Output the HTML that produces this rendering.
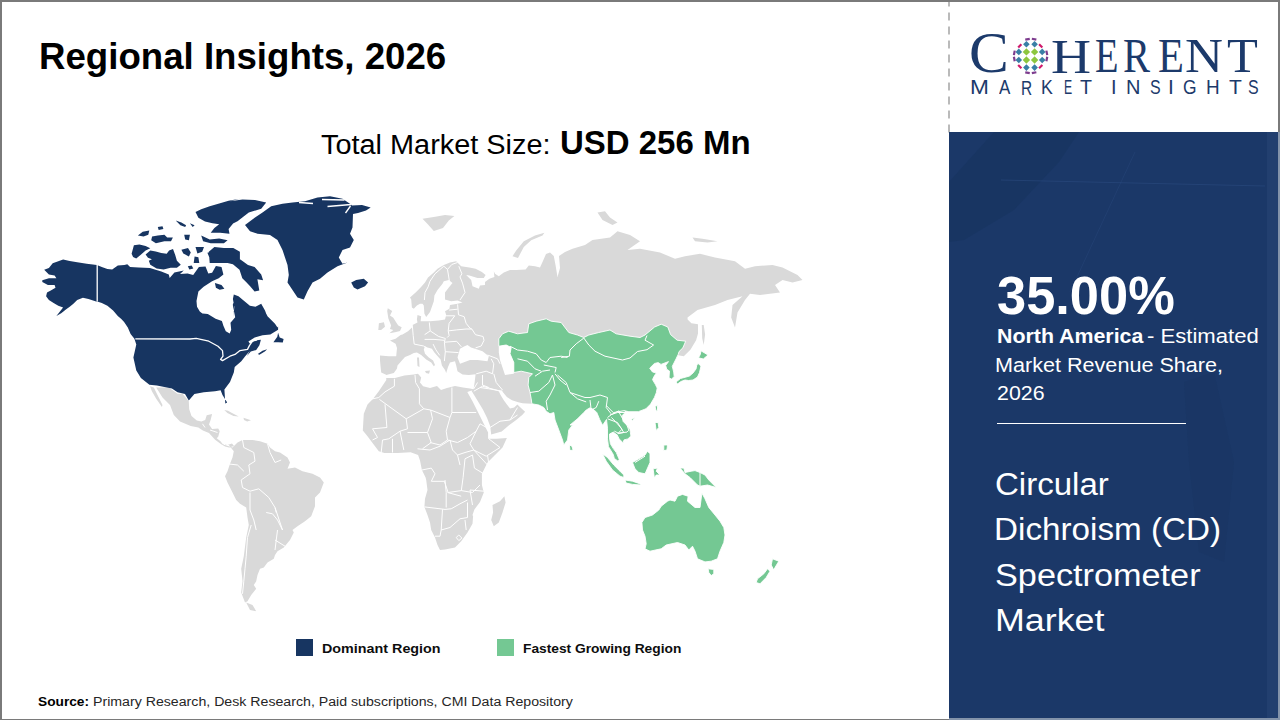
<!DOCTYPE html>
<html><head><meta charset="utf-8">
<style>
html,body{margin:0;padding:0;}
body{width:1280px;height:720px;position:relative;overflow:hidden;background:#fff;font-family:"Liberation Sans",sans-serif;}
.t{position:absolute;white-space:pre;line-height:1;transform-origin:0 0;}
.frame{position:absolute;left:0;top:0;width:1280px;height:720px;box-sizing:border-box;border:2px solid #7a7a7a;border-bottom-width:1.5px;pointer-events:none;}
</style></head><body>
<svg width="1280" height="720" viewBox="0 0 1280 720" style="position:absolute;left:0;top:0">
<path fill="#d9d9d9" d="M386.2,375.0 385.6,374.4 381.2,372.5 380.6,366.9 380.0,360.6 380.0,355.6 388.8,356.2 396.2,356.2 397.0,348.0 395.6,343.8 390.0,340.6 395.6,338.8 400.6,335.0 402.5,334.4 408.0,331.2 412.0,327.5 412.5,325.0 417.5,322.5 416.9,319.4 417.5,315.0 421.2,316.2 420.6,321.2 430.0,321.2 438.8,320.6 445.0,319.4 446.2,315.0 445.0,311.2 449.4,308.8 450.0,305.0 457.5,303.8 462.5,302.5 457.5,300.6 451.2,301.2 445.0,299.4 445.0,292.5 448.8,287.5 452.5,283.1 448.8,280.0 443.8,281.2 442.5,283.8 437.5,290.0 434.4,295.6 433.8,301.2 432.5,305.0 430.0,311.9 426.2,316.9 424.4,313.8 423.8,305.6 422.5,303.8 420.0,303.8 416.9,305.6 413.8,308.8 411.9,307.5 411.2,299.4 410.0,297.5 415.6,292.5 420.6,287.5 425.0,282.5 428.0,277.5 433.8,272.5 437.5,268.8 443.8,265.0 450.0,262.5 456.2,261.2 461.2,266.2 469.4,267.5 475.6,268.8 481.9,271.9 485.6,275.0 483.8,278.0 477.5,278.0 469.4,275.6 466.2,275.0 471.2,280.0 472.5,286.2 478.8,288.8 480.0,285.6 485.0,285.0 485.0,281.9 489.4,278.8 494.4,276.9 493.8,271.2 495.0,273.8 498.8,276.2 503.8,272.5 510.0,270.0 516.2,270.0 525.6,269.4 528.8,265.6 535.0,266.2 540.0,267.5 542.5,262.0 546.0,254.0 550.0,252.5 553.8,256.0 555.6,265.6 557.5,277.0 560.0,268.0 559.0,256.0 565.0,252.0 572.5,248.8 585.0,245.0 592.5,240.0 610.0,237.5 617.5,231.2 630.0,235.0 640.0,241.2 627.5,250.0 640.0,248.8 660.0,252.5 675.0,258.8 685.0,256.2 700.0,253.8 715.0,257.5 735.0,261.2 745.0,268.8 755.0,266.2 772.5,265.0 782.5,267.5 797.5,275.0 802.5,280.0 792.5,282.5 782.5,280.0 775.0,285.0 780.0,292.5 760.0,295.0 750.0,293.8 745.0,300.0 737.5,312.5 735.0,327.5 731.2,317.5 732.5,305.0 742.5,296.2 727.5,300.0 715.0,305.0 697.5,310.0 687.5,317.5 687.6,319.4 691.4,323.2 698.0,324.2 698.0,333.6 696.1,340.2 690.4,349.7 683.8,356.3 678.2,355.3 675.3,358.2 676.1,358.8 672.3,366.3 673.7,372.0 674.2,376.7 671.4,379.1 669.0,377.7 669.5,371.1 666.7,369.2 665.7,365.4 668.5,361.6 661.0,364.4 658.2,362.6 654.4,363.5 649.7,368.2 652.5,372.0 656.3,372.9 654.4,375.8 652.5,379.6 655.3,384.3 657.2,388.1 656.3,392.8 654.4,397.5 650.6,404.1 645.9,408.8 638.3,411.7 628.9,411.7 624.2,410.7 626.0,411.7 622.1,415.6 623.1,421.4 627.0,425.3 629.9,429.2 630.9,436.0 627.9,438.9 624.0,439.9 623.1,442.8 619.2,438.9 617.2,435.0 613.3,432.1 609.5,434.0 609.5,437.9 610.4,443.8 613.3,448.6 616.3,452.5 619.2,459.3 618.2,461.3 614.3,458.4 613.3,454.5 608.5,446.7 607.5,438.9 607.5,428.2 606.5,419.5 602.6,425.3 599.7,419.5 596.8,412.6 593.9,409.7 590.0,407.8 586.2,410.0 583.8,412.5 577.5,418.8 570.0,425.0 572.5,425.0 568.8,430.0 567.5,440.0 563.8,445.0 562.5,440.0 558.8,430.0 555.0,420.0 553.8,412.5 550.0,413.8 546.2,411.2 543.8,407.5 538.8,405.0 531.9,403.8 522.5,403.3 518.3,402.3 512.0,400.2 506.9,397.0 501.7,390.8 498.5,390.8 500.6,395.0 503.8,400.2 506.9,404.4 510.0,408.5 514.2,407.5 517.3,404.4 519.4,406.5 525.1,411.7 522.5,414.8 516.2,420.0 509.0,425.2 501.7,431.5 491.2,434.6 490.2,426.2 487.1,417.9 482.9,409.6 476.7,399.2 471.5,390.8 473.5,389.8 474.6,382.5 475.6,374.2 468.8,375.0 462.5,374.4 457.5,371.2 456.2,365.6 455.0,361.2 450.0,362.5 448.0,367.0 446.2,373.0 445.0,370.0 441.9,365.6 440.6,359.4 438.8,357.5 434.4,352.5 431.9,348.8 427.5,347.5 425.0,346.2 423.8,349.4 425.0,353.8 428.8,357.5 433.1,360.6 435.0,365.0 433.8,366.2 431.2,362.5 426.2,359.4 421.2,355.0 416.9,352.5 413.8,353.0 410.0,355.0 405.0,357.0 401.2,361.2 397.5,365.6 396.9,368.8 393.8,373.0Z M386.2,378.0 395.0,378.0 404.4,375.6 413.8,374.4 418.0,373.8 421.2,377.5 420.0,382.5 423.1,386.2 430.0,388.0 437.0,386.0 441.0,390.0 447.0,388.0 455.0,386.0 463.0,387.5 470.0,388.5 474.4,389.4 467.3,391.9 472.5,401.2 478.8,413.8 484.0,424.2 488.1,432.5 488.1,438.8 496.5,438.8 506.9,438.0 502.5,447.5 495.0,455.0 487.5,462.5 481.9,473.8 481.9,485.0 483.8,492.5 480.0,501.9 474.4,509.4 472.5,515.0 473.1,516.2 472.5,523.8 467.5,532.5 461.2,541.2 455.0,547.5 445.0,549.4 440.0,550.0 437.5,545.0 435.0,537.5 431.2,530.0 430.0,522.5 427.5,515.0 424.4,506.9 425.0,498.8 427.5,490.0 426.2,480.0 425.6,477.5 421.9,470.0 420.0,460.6 418.1,455.0 410.6,452.2 397.5,453.1 384.4,453.1 378.8,451.3 373.1,443.8 367.5,436.3 362.8,430.6 363.8,413.8 367.5,404.4 373.1,398.8 378.8,391.3 386.3,380.0Z M492.5,505.0 500.0,501.2 504.4,496.2 505.6,502.5 502.5,512.5 498.8,522.5 493.8,526.2 491.2,520.0 493.1,512.5Z M387.8,308.3 392.2,311.1 390.0,315.6 393.3,317.8 396.1,322.2 398.3,325.6 401.7,327.2 400.0,331.1 395.0,332.2 389.4,333.3 393.3,330.0 390.0,328.9 391.1,325.6 388.3,318.3 387.2,311.1Z M378.9,323.3 383.9,322.2 385.0,326.7 381.1,330.0 378.3,330.0Z M422.5,218.8 433.8,216.9 445.0,215.0 454.4,216.0 448.8,220.6 443.0,228.0 433.8,231.0 428.0,224.4Z M512.5,256.2 516.2,250.6 523.8,241.2 535.0,235.6 544.4,232.8 542.5,235.6 531.2,240.3 523.8,246.9 518.0,258.0Z M417.0,357.5 419.0,357.5 419.5,367.0 417.5,366.0Z M425.0,371.0 430.0,370.6 429.0,373.8 426.0,373.0Z M597.5,212.5 605.0,211.2 610.0,217.5 617.5,222.5 612.5,225.0 602.5,220.0Z M692.5,237.5 702.5,238.8 717.5,241.2 707.5,242.5 695.0,241.2Z M701.8,325.1 703.7,325.1 705.1,334.6 703.7,344.9 702.2,338.3Z M156.2,387.5 168.8,387.5 177.5,393.8 182.5,393.8 188.8,401.2 189.2,409.2 191.5,416.0 196.8,420.6 201.4,421.4 205.2,419.9 206.7,415.3 212.1,414.1 210.6,419.9 209.0,424.4 212.1,429.0 218.2,428.6 219.7,431.3 218.2,436.7 216.7,438.2 220.5,441.2 222.8,444.3 227.4,445.1 232.0,443.5 234.0,446.0 229.0,447.5 225.1,446.6 221.2,444.3 215.1,439.7 209.0,432.9 202.9,430.6 198.3,427.5 190.7,426.0 180.0,421.4 173.8,415.0 170.0,405.0 162.5,397.5Z M150.0,386.2 153.8,387.5 157.5,395.0 162.5,405.0 161.9,406.9 156.2,398.8 151.9,391.2Z M224.3,409.9 228.0,410.8 232.0,413.0 238.8,416.4 233.5,416.0 227.4,413.0Z M243.5,417.8 251.0,420.2 247.2,421.6 244.0,420.0Z M225.0,445.0 232.5,447.5 237.5,442.5 242.5,440.0 252.5,440.0 260.0,441.2 267.5,443.8 270.0,447.5 275.0,451.2 280.0,452.5 287.5,457.5 290.0,462.5 287.5,468.8 295.0,467.5 302.5,471.2 312.5,473.8 320.0,477.5 323.8,482.5 320.0,492.5 315.0,497.5 315.0,506.2 311.2,516.2 305.0,521.2 297.5,526.2 292.5,530.0 293.8,532.5 290.0,540.0 283.8,547.5 277.5,551.2 275.0,555.0 273.8,558.8 267.5,562.5 263.8,567.5 260.0,568.8 257.5,575.0 256.2,581.2 253.8,585.0 256.2,588.8 251.2,595.0 247.5,601.2 245.0,602.5 241.2,592.5 242.5,581.2 241.2,568.8 243.8,556.2 246.2,537.5 248.8,525.0 247.5,517.5 246.2,507.5 240.0,503.8 236.2,500.0 232.5,492.5 227.5,482.5 225.0,476.2 227.5,471.2 230.0,463.8 232.5,457.5 233.8,451.2 228.8,445.0Z M246.2,602.5 252.5,605.0 256.2,611.2 250.0,610.0Z"/>
<path fill="#74c893" stroke="#fff" stroke-width="0.9" d="M498.8,338.8 502.5,333.8 508.8,331.2 517.5,333.8 527.5,332.5 528.8,323.8 536.2,321.2 546.2,318.8 551.2,321.2 561.2,322.5 568.8,332.5 577.5,335.0 583.8,337.5 588.8,335.0 598.8,332.5 610.0,330.0 616.2,333.8 630.0,336.2 640.0,337.5 645.0,335.0 654.6,327.0 661.2,324.2 667.8,327.0 670.6,334.6 677.2,340.2 685.7,341.2 682.9,347.8 679.1,351.5 678.2,354.4 676.1,358.8 672.3,366.3 673.7,372.0 674.2,376.7 671.4,379.1 669.0,377.7 669.5,371.1 666.7,369.2 665.7,365.4 668.5,361.6 661.0,364.4 658.2,362.6 654.4,363.5 649.7,368.2 652.5,372.0 656.3,372.9 654.4,375.8 652.5,379.6 655.3,384.3 657.2,388.1 656.3,392.8 654.4,397.5 650.6,404.1 645.9,408.8 638.3,411.7 628.9,411.7 624.2,410.7 626.0,411.7 622.1,415.6 623.1,421.4 627.0,425.3 629.9,429.2 630.9,436.0 627.9,438.9 624.0,439.9 623.1,442.8 619.2,438.9 617.2,435.0 613.3,432.1 609.5,434.0 609.5,437.9 610.4,443.8 613.3,448.6 616.3,452.5 619.2,459.3 618.2,461.3 614.3,458.4 613.3,454.5 608.5,446.7 607.5,438.9 607.5,428.2 606.5,419.5 602.6,425.3 599.7,419.5 596.8,412.6 593.9,409.7 590.0,407.8 586.2,410.0 583.8,412.5 577.5,418.8 570.0,425.0 572.5,425.0 568.8,430.0 567.5,440.0 563.8,445.0 562.5,440.0 558.8,430.0 555.0,420.0 553.8,412.5 550.0,413.8 546.2,411.2 543.8,407.5 538.8,405.0 531.9,403.8 531.2,398.8 530.0,392.5 528.1,385.0 528.8,377.5 532.5,373.8 521.2,371.2 513.8,372.5 513.8,362.5 510.0,353.8 511.2,347.5 506.2,345.0 498.8,346.2Z M569.4,445.0 571.9,446.2 573.1,450.0 570.0,450.6Z M698.1,363.5 701.0,366.0 699.5,372.5 697.5,377.0 693.0,380.0 688.5,380.5 685.0,380.0 681.0,381.5 677.5,384.0 676.0,382.0 680.5,378.5 686.0,377.0 689.5,376.0 693.0,373.0 696.0,369.0 696.8,365.0Z M701.0,350.8 708.0,355.0 703.3,359.0 698.5,357.8 700.3,354.4Z M655.0,406.2 657.5,405.6 657.5,410.0 656.2,411.2Z M630.9,419.5 634.7,417.5 632.8,420.4Z M655.0,422.5 658.1,422.5 658.8,427.5 656.2,430.6Z M663.8,445.0 667.5,445.0 666.9,450.0 663.8,450.6Z M602.5,453.8 607.5,457.5 613.8,465.0 620.0,471.2 623.8,475.0 623.8,477.5 620.0,476.2 612.5,470.0 606.2,461.2Z M625.0,480.0 632.5,481.2 640.0,483.8 641.2,485.0 632.5,484.4 626.2,483.1Z M632.5,462.5 638.8,458.8 645.0,455.0 647.5,451.2 650.0,453.8 650.0,462.5 646.2,471.2 645.0,473.8 638.8,472.5 635.0,468.8Z M653.1,468.8 657.5,468.1 656.2,471.2 660.0,475.0 656.2,475.0 654.4,478.1Z M680.0,468.1 683.8,468.1 685.0,472.5 691.2,471.2 695.0,470.6 700.0,472.5 705.0,475.0 708.8,480.0 716.2,487.5 707.5,485.0 700.0,486.2 697.5,485.0 690.0,477.5 685.0,473.8Z M641.9,522.5 645.0,517.5 652.5,515.0 658.8,510.0 661.2,506.2 667.5,501.2 670.0,500.0 675.0,501.2 677.5,496.2 682.5,494.4 688.1,496.2 687.5,501.2 695.0,507.5 700.0,507.5 701.9,493.1 705.0,498.8 708.8,507.5 715.0,515.0 720.0,521.2 723.8,527.5 725.0,535.0 725.0,535.0 723.8,542.5 720.0,551.2 717.5,558.8 711.2,561.2 705.0,561.9 697.5,558.8 695.0,551.2 692.5,546.2 688.8,550.0 685.0,545.0 677.5,542.5 666.2,545.0 661.2,548.8 650.0,551.2 647.5,550.0 645.0,548.8 646.2,543.8 645.0,536.2 642.5,530.0Z M708.1,568.8 713.8,569.4 713.8,573.8 711.2,575.6 708.8,572.5Z M772.5,558.8 778.8,561.2 775.0,567.5 773.8,570.0 771.2,565.0Z M767.5,568.8 770.0,571.2 766.2,577.5 760.0,583.8 756.2,582.5 757.5,578.8 763.8,573.8Z"/>
<path fill="#173561" d="M44.2,269.8 48.9,267.9 52.7,263.2 58.3,261.3 63.1,259.4 69.7,260.9 77.2,262.3 86.7,263.7 96.9,265.1 101.8,267.0 107.4,268.9 112.2,269.4 117.8,265.6 124.4,265.1 127.3,264.2 130.1,267.0 138.6,267.5 149.9,267.9 161.3,271.6 168.8,274.4 169.7,278.1 174.4,272.5 183.8,270.6 180.0,274.1 187.6,273.6 193.2,275.0 198.9,267.0 205.5,266.5 208.3,273.6 212.1,272.7 215.9,266.1 221.5,267.0 223.4,274.6 218.7,278.3 212.1,281.2 203.6,286.8 198.4,291.5 196.5,301.0 197.0,306.7 199.8,311.4 204.6,315.2 200.0,313.3 207.8,314.1 215.6,318.8 221.9,321.1 223.4,325.8 225.8,331.2 229.7,333.6 231.2,329.7 230.5,322.7 235.2,317.2 233.6,309.4 232.8,304.7 234.4,300.0 233.4,318.0 234.3,306.7 232.9,299.1 233.8,294.4 238.5,296.3 244.2,301.0 249.9,305.7 255.5,306.7 261.2,303.8 265.0,310.4 267.8,318.0 260.0,305.0 263.8,308.8 267.5,316.2 275.0,323.8 277.5,327.5 278.1,326.6 278.1,329.7 270.3,334.4 262.5,335.2 254.7,337.5 248.4,341.4 250.0,343.8 254.7,340.6 260.9,339.8 259.4,345.3 256.2,350.0 250.8,351.6 246.9,356.0 249.7,350.9 245.0,356.6 241.3,361.3 234.7,366.9 233.8,372.5 230.0,381.9 224.4,389.4 225.3,403.4 227.2,402.5 222.5,395.0 220.6,390.3 215.0,391.3 203.8,392.2 194.4,394.1 188.8,400.6 185.0,394.1 177.5,392.2 171.9,388.4 156.9,385.6 149.4,384.7 140.9,378.1 136.3,370.6 133.4,357.5 136.3,344.4 134.4,338.8 130.6,334.1 127.8,327.5 124.1,321.9 121.3,319.1 117.8,316.1 113.1,310.4 107.4,305.7 101.8,302.9 97.2,301.5 96.1,301.5 88.5,299.1 82.9,297.7 77.2,300.0 73.4,303.8 69.7,306.7 65.9,309.5 61.2,313.3 56.4,316.1 63.1,307.6 58.3,305.7 53.6,302.9 48.9,300.0 46.1,296.3 47.0,292.5 50.8,290.6 55.5,287.8 54.6,284.9 47.9,284.9 42.3,282.1 42.3,280.2 48.9,278.3 56.4,278.3 54.6,275.5 48.9,274.6Z M257.8,353.9 262.5,350.8 267.2,349.2 264.8,351.6 259.4,354.7Z M273.4,342.2 277.3,336.7 278.1,332.8 279.7,337.5 283.6,339.1 282.8,342.6 278.1,342.2Z M131.6,253.8 133.9,245.2 139.4,244.4 145.6,245.9 150.3,248.3 145.6,250.6 140.2,255.3 136.2,258.4 133.1,256.9Z M145.6,254.5 150.3,250.6 155.8,251.4 161.2,253.0 166.7,253.8 169.1,250.6 173.0,249.1 175.3,255.3 176.9,260.8 180.8,264.7 176.9,267.8 170.6,267.8 163.6,269.4 156.6,268.6 150.3,264.7 148.8,260.8 151.9,259.2 148.0,257.7Z M187.8,266.2 191.7,265.5 193.3,268.6 189.4,269.4Z M137.9,235.6 142.7,231.8 149.3,230.4 148.3,234.7 143.6,236.5Z M152.1,236.5 157.8,235.6 164.4,234.7 167.2,237.5 172.9,237.5 171.0,241.3 164.4,241.3 155.9,243.2 151.2,240.3Z M157.8,227.1 162.5,226.2 163.4,229.0 158.7,229.9Z M175.7,220.5 181.4,222.4 186.1,225.2 185.2,227.1 180.4,225.2Z M189.9,223.3 194.6,225.2 192.7,227.1Z M184.2,234.7 189.9,234.7 188.9,240.3 185.2,239.4Z M201.2,235.6 209.7,239.4 219.2,238.4 227.6,240.3 223.9,243.2 210.7,243.2 203.1,241.3Z M195.5,212.0 201.2,209.2 209.7,206.3 219.2,203.5 228.6,200.7 239.9,198.8 230.0,201.2 242.5,199.4 255.0,200.0 266.2,202.5 261.2,208.8 248.8,212.5 237.5,221.2 230.0,225.0 233.3,223.3 228.6,229.0 229.5,233.7 220.1,232.8 210.7,232.8 214.4,228.1 219.2,224.3 212.5,223.3 205.0,221.4 198.4,217.7Z M195.5,246.9 204.0,246.9 202.2,251.7 197.4,253.5Z M194.6,256.4 198.4,257.3 199.3,263.0 193.7,263.0Z M181.4,249.8 188.0,247.9 190.8,252.6 188.9,256.4 183.3,253.5Z M207.4,252.8 217.8,250.0 224.4,252.8 232.9,255.7 240.4,259.4 248.0,265.1 254.6,267.0 261.2,274.6 263.1,280.2 257.4,279.3 259.3,290.6 254.6,291.5 249.9,285.9 246.1,282.1 242.3,278.3 239.5,269.8 232.9,264.2 224.4,262.3 217.8,260.4 210.2,259.4Z M208.8,251.7 214.4,246.9 223.9,247.9 233.3,247.9 239.9,251.7 239.9,263.0 209.7,263.0Z M214.9,283.1 221.5,284.9 224.4,288.7 219.7,289.7 215.9,287.8Z M245.0,225.0 255.0,217.5 262.5,212.5 271.2,206.2 282.5,203.8 292.5,202.5 305.0,201.2 317.5,197.5 330.0,196.2 342.5,198.8 350.0,203.8 352.0,205.5 362.0,205.0 370.7,207.5 366.0,210.5 358.0,213.0 353.0,214.0 352.5,227.5 350.0,233.8 353.8,240.0 350.0,247.5 342.5,250.0 338.8,257.5 342.5,263.8 347.5,262.5 337.5,266.2 327.5,272.5 320.0,278.8 312.5,282.5 307.5,291.2 303.8,299.4 297.5,297.5 292.5,290.0 287.5,282.5 288.8,275.0 287.5,265.0 285.0,257.5 282.5,250.0 277.5,240.0 270.0,235.0 257.5,233.8 250.0,231.2Z M351.2,282.5 356.2,280.0 363.8,278.8 368.1,282.5 365.0,286.2 357.5,289.4 353.8,287.5Z"/>
<path fill="#ffffff" d="M457.5,357.5 460.0,348.8 464.0,346.5 467.5,345.0 471.0,347.5 475.0,348.8 482.5,351.2 488.8,356.2 487.5,361.2 477.5,360.0 470.0,360.0 460.0,363.8Z M498.8,346.2 506.2,345.0 511.2,347.5 510.0,353.8 513.8,362.5 513.8,373.8 505.0,375.0 502.5,367.5 500.0,360.0 498.8,352.5Z"/>
<path fill="none" stroke="#ffffff" stroke-width="1" d="M394.4,378.8 394.4,386.2 385.0,391.9 378.8,397.5 370.0,399.4 M415.0,375.0 415.6,382.5 419.4,388.8 419.4,403.8 423.8,408.8 M379.4,399.4 406.2,418.8 423.8,408.8 M385.0,404.4 386.9,427.5 372.5,428.8 M406.2,418.8 407.5,428.8 400.0,431.2 388.8,438.8 382.5,440.0 M423.8,408.8 430.6,410.0 432.5,418.8 427.5,432.5 M407.5,432.5 420.0,432.5 427.5,432.5 M427.5,432.5 431.2,442.5 422.5,448.8 M451.9,387.5 451.9,412.5 M451.9,412.5 476.2,412.5 M430.6,410.0 450.0,417.5 451.9,412.5 M450.0,417.5 446.2,431.2 447.5,440.0 M430.0,442.5 440.0,445.0 447.5,440.0 M447.5,440.0 457.5,442.5 467.5,437.5 476.2,431.2 M476.2,431.2 470.0,443.8 473.8,450.0 486.2,456.2 M476.2,431.2 480.0,423.8 488.8,428.8 M488.8,438.8 500.0,447.5 486.2,456.2 M382.5,440.0 381.2,452.5 M392.5,438.8 392.5,452.5 M400.0,431.2 403.8,450.0 M372.5,428.8 377.5,437.5 372.5,440.0 M473.8,391.2 482.5,386.2 500.0,391.2 M490.0,427.5 500.0,421.2 510.0,420.0 517.5,415.0 M510.0,420.0 517.5,407.5 M417.5,448.8 430.0,450.0 440.0,446.2 450.0,440.0 M450.0,440.0 452.5,450.0 457.5,455.0 465.0,452.5 473.8,450.0 M473.8,450.0 487.5,465.0 M457.5,455.0 460.0,465.0 M421.9,470.0 431.3,468.1 435.0,473.8 431.3,481.3 M431.3,481.3 444.4,481.3 448.1,492.5 461.3,490.6 463.1,477.5 465.0,458.8 M472.5,455.0 474.4,468.1 483.8,473.8 489.4,468.1 487.5,455.0 M465.0,458.8 472.5,455.0 M461.3,490.6 472.5,492.5 480.0,485.0 M424.4,506.9 445.0,509.4 451.2,508.8 M442.5,509.4 441.2,530.0 440.0,536.2 435.0,536.2 M441.2,530.0 450.0,527.5 460.0,518.8 M451.2,508.8 460.0,503.8 467.5,500.0 M467.5,502.5 467.5,517.5 460.0,518.8 M445.0,480.0 446.2,492.5 446.2,507.5 M447.5,492.5 461.2,496.2 M470.0,490.0 483.8,491.2 M470.0,490.0 472.5,505.0 M465.0,520.0 466.2,530.0 M456.2,537.5 458.8,535.0 461.9,538.1 458.8,540.6 456.2,537.5 M424.4,300.0 425.0,292.5 428.1,286.9 430.0,281.2 435.0,273.8 443.8,266.2 447.5,269.4 M447.5,269.4 449.4,281.2 M447.5,269.4 451.9,264.4 457.5,262.5 M458.8,266.2 461.9,273.8 460.0,276.9 462.5,283.1 465.0,292.5 460.0,300.0 M457.6,304.4 458.5,314.8 464.2,316.7 466.1,323.3 469.9,328.1 471.8,329.0 475.5,334.7 483.1,336.5 484.0,340.3 481.2,346.0 475.5,347.9 M449.1,310.1 457.6,309.2 M445.3,315.8 454.8,315.8 M454.8,315.8 449.1,323.3 M429.3,322.4 430.2,330.9 M449.1,323.3 448.2,330.9 449.1,335.6 447.2,337.5 M448.2,330.9 456.7,329.9 466.1,329.0 471.8,329.0 M412.3,325.2 413.2,335.6 414.2,344.1 M424.6,334.7 430.2,330.9 438.7,336.5 445.3,338.4 M424.6,339.4 434.0,339.4 444.4,340.3 M444.4,342.2 456.7,341.3 461.4,346.9 M445.3,351.7 458.5,352.6 M433.1,344.1 435.9,349.8 439.7,355.4 M414.2,344.1 423.6,346.0 426.4,347.9 M400.0,334.7 412.3,325.2 M445.3,338.4 444.4,342.2 445.3,351.7 444.4,361.1 M583.8,338.1 576.2,343.8 570.0,350.0 569.4,356.2 561.2,357.5 M510.0,346.2 517.5,350.0 527.5,351.2 536.2,353.8 541.2,360.0 546.2,362.5 550.0,357.5 561.2,356.2 567.5,357.5 M517.5,358.8 527.5,361.2 535.0,368.8 541.2,371.2 M535.0,376.2 542.5,371.2 550.0,370.0 M543.8,365.0 556.2,367.5 555.0,372.5 M555.0,373.8 560.0,380.0 566.2,385.0 M583.8,338.0 588.8,345.0 595.0,351.2 605.0,356.2 622.5,360.0 630.0,358.0 637.5,351.5 647.0,349.7 653.6,345.0 645.0,340.2 647.0,335.5 M552.5,375.0 555.0,385.0 550.0,395.0 546.2,401.2 547.5,410.0 M530.0,392.5 538.8,391.2 548.8,382.5 552.5,375.0 M557.5,375.0 566.2,382.5 570.0,392.5 585.0,397.5 590.0,397.5 M570.0,392.5 577.5,398.8 586.2,401.9 M590.0,400.0 591.2,410.0 596.2,407.5 598.8,401.2 M590.0,397.5 600.0,395.0 607.5,397.5 606.2,407.5 611.2,413.8 M610.0,415.0 617.5,412.5 626.2,412.5 M607.5,418.8 617.5,422.5 623.8,432.5 617.5,433.8 M607.5,417.5 611.4,414.6 615.3,412.6 619.2,410.7 M619.2,412.6 623.1,419.5 627.0,425.3 628.9,430.2 M611.4,417.5 615.3,421.4 622.1,429.2 618.2,433.1 614.3,431.1 M618.2,433.1 627.0,432.1 628.9,430.2 M606.5,405.8 613.3,412.6 624.0,410.7 M635.0,462.5 645.0,456.2 M700.0,472.5 700.0,486.2 M242.5,440.0 243.8,447.5 253.8,452.5 255.0,461.2 248.8,465.0 M267.5,443.8 270.0,452.5 275.0,462.5 281.2,460.0 M248.8,465.0 250.0,473.8 241.2,480.0 242.5,487.5 250.0,491.2 M227.5,463.8 237.5,465.0 243.8,471.2 M250.0,491.2 258.8,488.8 268.8,497.5 275.0,507.5 276.2,512.5 M250.0,492.5 250.0,510.0 253.8,520.0 256.2,530.0 M266.2,512.5 272.5,513.8 277.5,520.0 282.5,530.0 M275.0,507.5 282.5,530.0 M251.2,525.0 247.5,537.5 246.2,556.2 245.0,568.8 243.8,581.2 242.5,593.8 M275.0,540.0 285.0,546.2 M275.0,550.0 277.5,530.0 M202.5,423.8 205.0,427.5 M210.0,430.0 217.5,432.5 M222.5,442.5 225.0,445.0 M476.2,373.8 486.2,371.2 492.5,373.8 M492.5,373.8 493.8,363.8 491.2,358.8 M482.5,375.0 482.5,385.0 488.8,387.5 M493.8,373.8 496.2,382.5 502.5,390.0 M480.0,387.5 488.8,388.8 502.5,391.2 M487.5,355.0 497.5,358.8 500.0,363.8 M473.8,388.8 477.5,382.5"/>
<path fill="none" stroke="#ffffff" stroke-width="1.3" stroke-linejoin="round" d="M327.5,206.5 351.0,204.5 M322.0,199.5 344.5,200.0 M299.0,202.5 313.0,203.5 M345.5,213.0 350.5,206.0 M97.2,265.1 97.2,301.5 M135.3,338.9 190.0,339.0 196.2,338.4 208.8,341.2 218.0,346.2 222.5,350.6 223.0,356.2 220.6,359.4 222.5,360.6 230.0,356.2 235.0,354.4 240.0,350.6 247.5,349.4 249.4,345.6 252.5,341.2 257.0,339.8"/>
</svg>
<div class="t" style="left:38.78px;top:37.98px;font-size:37.71px;font-weight:bold;color:#000;transform:scaleX(0.9718)">Regional Insights, 2026</div>
<div class="t" style="left:321.07px;top:130.75px;font-size:27.93px;font-weight:normal;color:#000;transform:scaleX(1.0342)">Total Market Size:</div>
<div class="t" style="left:559.96px;top:126.97px;font-size:32.4px;font-weight:bold;color:#000;transform:scaleX(1.018)">USD 256 Mn</div>
<div class="t" style="left:321.67px;top:641.67px;font-size:13.27px;font-weight:bold;color:#0d0d0d;transform:scaleX(1.0801)">Dominant Region</div>
<div class="t" style="left:522.56px;top:641.67px;font-size:13.27px;font-weight:bold;color:#0d0d0d;transform:scaleX(1.0377)">Fastest Growing Region</div>
<div class="t" style="left:38.40px;top:695.41px;font-size:13.69px;font-weight:bold;color:#000;transform:scaleX(1.002)">Source:</div>
<div class="t" style="left:92.72px;top:695.41px;font-size:13.69px;font-weight:normal;color:#262626;transform:scaleX(1.0341)">Primary Research, Desk Research, Paid subscriptions, CMI Data Repository</div>
<div style="position:absolute;left:296px;top:639px;width:17px;height:17px;background:#173561"></div>
<div style="position:absolute;left:497px;top:639px;width:17px;height:17px;background:#74c893"></div>
<!-- dashed divider -->
<svg width="4" height="134" style="position:absolute;left:947px;top:0"><line x1="2" y1="-1.5" x2="2" y2="133" stroke="#b3b3b3" stroke-width="1.8" stroke-dasharray="8 6"/></svg>
<!-- right panel -->
<div id="panel" style="position:absolute;left:949px;top:132px;width:331px;height:588px;background:#1b3868;overflow:hidden">
<svg width="331" height="588" style="position:absolute;left:0;top:0">
<path d="M0,50 L45,0 L130,0 L110,30 L65,78 L15,108 L0,110Z" fill="#15305a" opacity="0.35"/>
<path d="M235,250 L265,240 L285,330 L275,430 L250,420 L240,330Z" fill="#15305a" opacity="0.22"/>
<line x1="52" y1="48" x2="316" y2="54" stroke="#2d4d82" stroke-width="1" opacity="0.55"/>
<line x1="186" y1="20" x2="121" y2="160" stroke="#2d4d82" stroke-width="0.8" opacity="0.45"/>
<rect x="318" y="0" width="13" height="588" fill="#2a4676" opacity="0.5"/>
</svg>
</div>
<div class="t" style="left:997.13px;top:267.65px;font-size:54.05px;font-weight:bold;color:#fff;transform:scaleX(0.9696)">35.00%</div>
<div class="t" style="left:996.62px;top:327.11px;font-size:19.83px;font-weight:bold;color:#fff;transform:scaleX(1.077)">North America</div>
<div class="t" style="left:1146.88px;top:327.11px;font-size:19.83px;font-weight:normal;color:#fff;transform:scaleX(1.1153)">- Estimated</div>
<div class="t" style="left:995.49px;top:355.96px;font-size:19.83px;font-weight:normal;color:#fff;transform:scaleX(1.0888)">Market Revenue Share,</div>
<div class="t" style="left:996.61px;top:384.41px;font-size:19.83px;font-weight:normal;color:#fff;transform:scaleX(1.0774)">2026</div>
<div class="t" style="left:995.40px;top:469.30px;font-size:31.42px;font-weight:normal;color:#fff;transform:scaleX(1.0519)">Circular</div>
<div class="t" style="left:994.33px;top:514.30px;font-size:31.42px;font-weight:normal;color:#fff;transform:scaleX(1.0581)">Dichroism (CD)</div>
<div class="t" style="left:995.41px;top:560.30px;font-size:31.42px;font-weight:normal;color:#fff;transform:scaleX(1.0903)">Spectrometer</div>
<div class="t" style="left:995.12px;top:605.30px;font-size:31.42px;font-weight:normal;color:#fff;transform:scaleX(1.1405)">Market</div>
<div style="position:absolute;left:997px;top:423px;width:189px;height:1px;background:#fff"></div>
<!-- logo -->
<div class="t" style="left:968.71px;top:25.0px;font-family:'Liberation Serif';font-size:56.12px;color:#1c3a6b;transform:scaleX(1.063)">C</div>
<div class="t" style="left:1050.64px;top:31.97px;font-family:'Liberation Serif';font-size:49.08px;color:#1c3a6b;transform:scaleX(1.13)">H</div>
<div class="t" style="left:1095.15px;top:32.09px;font-family:'Liberation Serif';font-size:48.92px;color:#1c3a6b;transform:scaleX(0.787)">E</div>
<div class="t" style="left:1123.28px;top:32.09px;font-family:'Liberation Serif';font-size:48.92px;color:#1c3a6b;transform:scaleX(0.83)">R</div>
<div class="t" style="left:1157.63px;top:32.09px;font-family:'Liberation Serif';font-size:48.92px;color:#1c3a6b;transform:scaleX(0.868)">E</div>
<div class="t" style="left:1185.42px;top:32.09px;font-family:'Liberation Serif';font-size:48.92px;color:#1c3a6b;transform:scaleX(1.074)">N</div>
<div class="t" style="left:1227.49px;top:32.09px;font-family:'Liberation Serif';font-size:48.92px;color:#1c3a6b;transform:scaleX(1.033)">T</div>
<div class="t" style="left:969.79px;top:78.12px;font-family:'Liberation Sans';font-size:19.86px;color:#1c3a6b;transform:scaleX(1.143)">M</div>
<div class="t" style="left:998.5px;top:78.12px;font-family:'Liberation Sans';font-size:19.86px;color:#1c3a6b;transform:scaleX(0.855)">A</div>
<div class="t" style="left:1020.67px;top:78.08px;font-family:'Liberation Sans';font-size:20.15px;color:#1c3a6b;transform:scaleX(0.766)">R</div>
<div class="t" style="left:1040.78px;top:78.12px;font-family:'Liberation Sans';font-size:19.86px;color:#1c3a6b;transform:scaleX(0.892)">K</div>
<div class="t" style="left:1063.52px;top:78.12px;font-family:'Liberation Sans';font-size:19.86px;color:#1c3a6b;transform:scaleX(0.616)">E</div>
<div class="t" style="left:1080.41px;top:78.12px;font-family:'Liberation Sans';font-size:19.86px;color:#1c3a6b;transform:scaleX(0.99)">T</div>
<div class="t" style="left:1111.4px;top:78.12px;font-family:'Liberation Sans';font-size:19.86px;color:#1c3a6b;transform:scaleX(1.007)">I</div>
<div class="t" style="left:1125.7px;top:78.12px;font-family:'Liberation Sans';font-size:19.86px;color:#1c3a6b;transform:scaleX(1.007)">N</div>
<div class="t" style="left:1149.7px;top:78.41px;font-family:'Liberation Sans';font-size:19.3px;color:#1c3a6b;transform:scaleX(0.827)">S</div>
<div class="t" style="left:1168.31px;top:78.12px;font-family:'Liberation Sans';font-size:19.86px;color:#1c3a6b;transform:scaleX(1.058)">I</div>
<div class="t" style="left:1183.33px;top:78.41px;font-family:'Liberation Sans';font-size:19.3px;color:#1c3a6b;transform:scaleX(0.901)">G</div>
<div class="t" style="left:1205.89px;top:78.12px;font-family:'Liberation Sans';font-size:19.86px;color:#1c3a6b;transform:scaleX(0.953)">H</div>
<div class="t" style="left:1228.78px;top:78.12px;font-family:'Liberation Sans';font-size:19.86px;color:#1c3a6b;transform:scaleX(1.06)">T</div>
<div class="t" style="left:1248.1px;top:78.41px;font-family:'Liberation Sans';font-size:19.3px;color:#1c3a6b;transform:scaleX(0.827)">S</div>
<svg width="1280" height="120" style="position:absolute;left:0;top:0"><path d="M1026.4,48.2 L1030.1,51.9 L1026.4,55.6 L1022.7,51.9Z" fill="#8dc63f"/><path d="M1034.6,48.2 L1038.3,51.9 L1034.6,55.6 L1030.9,51.9Z" fill="#8dc63f"/><path d="M1026.4,56.3 L1030.1,60.0 L1026.4,63.7 L1022.7,60.0Z" fill="#8dc63f"/><path d="M1034.6,56.3 L1038.3,60.0 L1034.6,63.7 L1030.9,60.0Z" fill="#8dc63f"/><path d="M1026.4,41.0 L1029.7,44.3 L1026.4,47.6 L1023.1,44.3Z" fill="#3a7fa6"/><path d="M1034.6,41.0 L1037.9,44.3 L1034.6,47.6 L1031.3,44.3Z" fill="#3a7fa6"/><path d="M1018.8,48.6 L1022.1,51.9 L1018.8,55.2 L1015.5,51.9Z" fill="#3a7fa6"/><path d="M1018.8,56.7 L1022.1,60.0 L1018.8,63.3 L1015.5,60.0Z" fill="#3a7fa6"/><path d="M1042.2,48.6 L1045.5,51.9 L1042.2,55.2 L1038.9,51.9Z" fill="#3a7fa6"/><path d="M1042.2,56.7 L1045.5,60.0 L1042.2,63.3 L1038.9,60.0Z" fill="#3a7fa6"/><path d="M1026.4,64.3 L1029.7,67.6 L1026.4,70.9 L1023.1,67.6Z" fill="#3a7fa6"/><path d="M1034.6,64.3 L1037.9,67.6 L1034.6,70.9 L1031.3,67.6Z" fill="#3a7fa6"/><rect x="1025.2" y="38.1" width="4.6" height="2.2" fill="#7d3c8e" transform="rotate(-10 1027.5 39.2)"/><rect x="1031.8" y="38.1" width="4.6" height="2.2" fill="#7d3c8e" transform="rotate(12 1034.1 39.2)"/><rect x="1017.5" y="44.7" width="4.6" height="2.2" fill="#d0196b" transform="rotate(-46 1019.8 45.8)"/><rect x="1038.4" y="44.7" width="4.6" height="2.2" fill="#d0196b" transform="rotate(45 1040.7 45.8)"/><rect x="1012.0" y="51.8" width="4.6" height="2.2" fill="#7d3c8e" transform="rotate(-79 1014.3 52.9)"/><rect x="1012.0" y="57.9" width="4.6" height="2.2" fill="#7d3c8e" transform="rotate(260 1014.3 59.0)"/><rect x="1044.5" y="51.8" width="4.6" height="2.2" fill="#7d3c8e" transform="rotate(79 1046.8 52.9)"/><rect x="1044.5" y="57.9" width="4.6" height="2.2" fill="#7d3c8e" transform="rotate(100 1046.8 59.0)"/><rect x="1017.5" y="65.5" width="4.6" height="2.2" fill="#d0196b" transform="rotate(225 1019.8 66.6)"/><rect x="1038.4" y="65.5" width="4.6" height="2.2" fill="#d0196b" transform="rotate(136 1040.7 66.6)"/><rect x="1025.2" y="71.6" width="4.6" height="2.2" fill="#7d3c8e" transform="rotate(190 1027.5 72.7)"/><rect x="1031.8" y="71.6" width="4.6" height="2.2" fill="#7d3c8e" transform="rotate(168 1034.1 72.7)"/></svg>
<div class="frame"></div>
<div style="position:absolute;left:949px;top:718px;width:331px;height:2px;background:#8393aa"></div>
<div style="position:absolute;left:1278px;top:132px;width:2px;height:588px;background:#8393aa"></div>
</body></html>
